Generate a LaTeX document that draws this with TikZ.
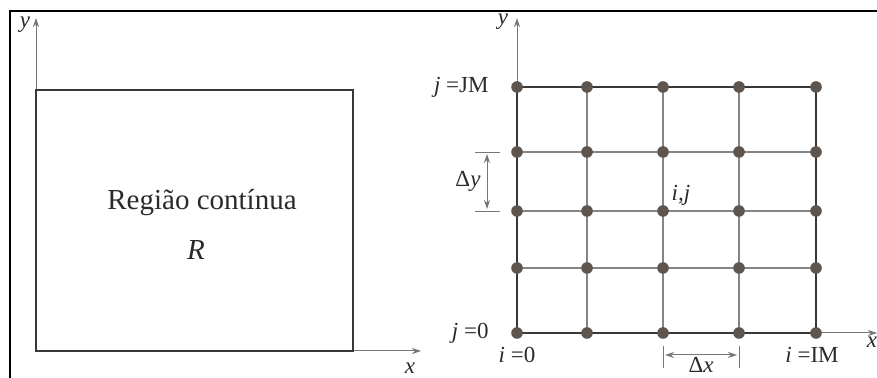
\documentclass[tikz,border=0pt]{standalone}
\usepackage{fontspec}
\setmainfont{Liberation Serif}
\usetikzlibrary{arrows.meta,positioning}
\definecolor{gridline}{HTML}{858585}
\definecolor{edgeline}{HTML}{383838}
\definecolor{nodedot}{HTML}{5E554E}
\definecolor{axisgray}{HTML}{777777}
\definecolor{inkgray}{HTML}{2A2A2A}

\begin{document}
\begin{tikzpicture}[
  x=0.5pt, y=-0.5pt,
  outerframe/.style={draw=black, line width=1.3pt},
  region/.style={draw=edgeline, line width=1.1pt},
  axis/.style={-{Stealth[length=4.5pt, width=3pt]}, draw=axisgray, line width=0.5pt},
  gline/.style={draw=gridline, line width=0.55pt},
  bline/.style={draw=edgeline, line width=1.3pt},
  gdot/.style={circle, fill=nodedot, minimum size=5.8pt, inner sep=0pt},
  dimline/.style={{Stealth[length=4.5pt, width=3pt]}-{Stealth[length=4.5pt, width=3pt]},
                  draw=axisgray, line width=0.5pt},
  ext/.style={draw=axisgray, line width=0.45pt},
  lbl/.style={font=\fontsize{11.5}{13}\selectfont, text=inkgray, inner sep=0pt},
  big/.style={font=\fontsize{14.5}{17}\selectfont, text=inkgray, inner sep=0pt},
]
  \useasboundingbox (0,0) rectangle (877,378);

  % Frame ------------------------------------------------------------------
  \coordinate (fbl) at (10,378);
  \coordinate (ftl) at (10,11);
  \coordinate (ftr) at (877,11);
  \draw[outerframe] (fbl) -- (ftl) -- (ftr);

  % Continuous region ------------------------------------------------------
  \coordinate (rsw) at (36,351);
  \coordinate (rne) at (353,90);
  \coordinate (ytipa) at (36,18);
  \coordinate (xtipa) at (421,351);
  \draw[axis] (rsw) -- (ytipa);
  \draw[axis] (rsw) -- (xtipa);
  \draw[region] (rsw) rectangle (rne);
  \node[lbl] (ylaba) at (25,25) {\textit{y}};
  \node[lbl] (xlaba) at (410,368) {\textit{x}};
  \node[big] (rtext) at (202,203) {Região contínua};
  \node[big] (rname) at (196,250) {\textit{R}};

  % Discrete grid ----------------------------------------------------------
  \foreach \gx [count=\i from 0] in {517,587,663,739,816}
    \foreach \gy [count=\j from 0] in {333,268,211,152,87}
      \coordinate (c\i\j) at (\gx,\gy);
  \coordinate (ytipb) at (517,18);
  \coordinate (xtipb) at (877,333);
  \draw[axis] (c04) -- (ytipb);
  \draw[axis] (c40) -- (xtipb);
  \foreach \k in {1,2,3} {
    \draw[gline] (c\k0) -- (c\k4);
    \draw[gline] (c0\k) -- (c4\k);
  }
  \draw[bline] (c00) -- (c40) -- (c44) -- (c04) -- cycle;
  \foreach \i in {0,...,4}
    \foreach \j in {0,...,4}
      \node[gdot] (n\i\j) at (c\i\j) {};

  \node[lbl] (ylabb) at (503,22) {\textit{y}};
  \node[lbl] (xlabb) at (872,342) {\textit{x}};
  \node[lbl, anchor=east] (jtop) at (489,87) {\textit{j} =JM};
  \node[lbl, anchor=east] (jbot) at (489,333) {\textit{j} =0};
  \node[lbl] (ifirst) at (517,355) {\textit{i} =0};
  \node[lbl] (ilast) at (812,355) {\textit{i} =IM};
  \node[lbl] (ijlab) at (681,195) {\textit{i,j}};

  % Spacing marks ----------------------------------------------------------
  \coordinate (dya) at (475,152);
  \coordinate (dyb) at (500,152);
  \coordinate (dyc) at (475,211);
  \coordinate (dyd) at (500,211);
  \draw[ext] (dya) -- (dyb) (dyc) -- (dyd);
  \coordinate (dyup) at (487,154);
  \coordinate (dydn) at (487,209);
  \draw[dimline] (dyup) -- node[lbl, left=3pt] {Δ\textit{y}} (dydn);

  \coordinate (dxa) at (663,346);
  \coordinate (dxb) at (663,368);
  \coordinate (dxc) at (739,346);
  \coordinate (dxd) at (739,368);
  \draw[ext] (dxa) -- (dxb) (dxc) -- (dxd);
  \coordinate (dxlt) at (665,355);
  \coordinate (dxrt) at (737,355);
  \draw[dimline] (dxlt) -- node[lbl, below=1pt] {Δ\textit{x}} (dxrt);
\end{tikzpicture}
\end{document}
